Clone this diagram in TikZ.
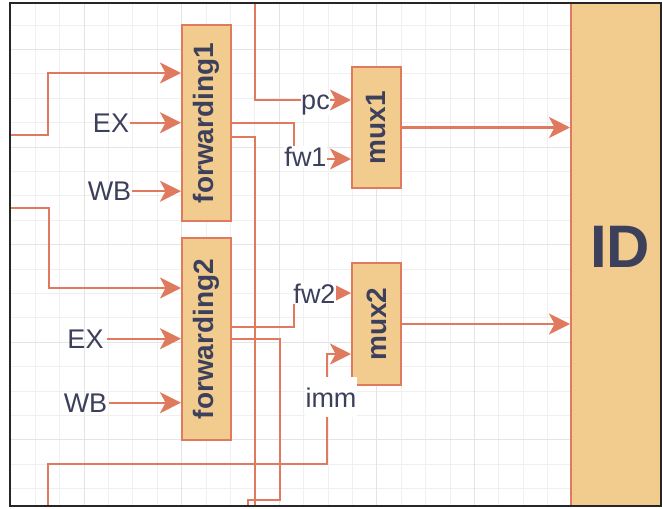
\documentclass[tikz,border=0pt]{standalone}
\usepackage{fontspec}
\setmainfont{Liberation Sans}
\usetikzlibrary{arrows.meta}
\definecolor{ln}{HTML}{E07A5F}
\definecolor{bx}{HTML}{F2CC8F}
\definecolor{tx}{HTML}{3D405B}
\definecolor{gmin}{HTML}{F0F0F0}
\definecolor{gmaj}{HTML}{E4E4E4}
\begin{document}
\begin{tikzpicture}[x=1pt,y=-1pt,
  blk/.style={draw=ln, fill=bx, line width=2pt, inner sep=0pt, text=tx,
              font=\fontsize{28}{28}\selectfont\bfseries},
  conn/.style={draw=ln, line width=2.2pt},
  arr/.style={conn, -{Stealth[length=21pt,width=21pt,inset=5.5pt]}},
  lbl/.style={text=tx, font=\fontsize{27}{27}\selectfont, inner sep=0.5pt, anchor=base},
  elbl/.style={lbl, fill=white},
  gridmin/.style={draw=gmin, line width=1pt},
  gridmaj/.style={draw=gmaj, line width=1pt},
]
\useasboundingbox (0,0) rectangle (662,509);
\fill[white] (0,0) rectangle (662,509);
\begin{scope}
  \clip (10,3) rectangle (661,506);
  \foreach \k [evaluate=\k as \xx using -13.6+24.4*\k] in {1,...,28}
    {\draw[gridmin] (\xx,3) -- (\xx,506);}
  \foreach \k [evaluate=\k as \yy using -48.2+24.4*\k] in {2,...,23}
    {\draw[gridmin] (10,\yy) -- (661,\yy);}
  \foreach \k [evaluate=\k as \xx using -13.6+24.4*\k] in {4,8,...,24}
    {\draw[gridmaj] (\xx,3) -- (\xx,506);}
  \foreach \k [evaluate=\k as \yy using -48.2+24.4*\k] in {4,8,...,20}
    {\draw[gridmaj] (10,\yy) -- (661,\yy);}
  \node[blk, minimum width=98pt, minimum height=540pt,
        font=\fontsize{60}{60}\selectfont\bfseries] (id) at (620,247) {ID};
\end{scope}

% blocks
\node[blk, minimum width=49pt, minimum height=196pt] (f1) at (206.5,123) {\rotatebox{90}{forwarding1}};
\node[blk, minimum width=49pt, minimum height=202pt] (f2) at (206.5,339) {\rotatebox{90}{forwarding2}};
\node[blk, minimum width=49pt, minimum height=121pt] (m1) at (376.5,127.5) {\rotatebox{90}{mux1}};
\node[blk, minimum width=49pt, minimum height=122pt] (m2) at (376.5,324) {\rotatebox{90}{mux2}};

% free ends
\coordinate (l1) at (10,135);
\coordinate (l2) at (10,208);
\coordinate (pcin) at (255,3);
\coordinate (b1) at (255,506);
\coordinate (b2) at (248,506);
\coordinate (immin) at (48,506);

% input labels
\node[lbl] (ex1) at (111,132) {EX};
\node[lbl] (wb1) at (109.5,200.5) {WB};
\node[lbl, inner xsep=3pt] (ex2) at (85.5,348) {EX};
\node[lbl, inner xsep=2pt] (wb2) at (85.5,412) {WB};

% inputs to forwarding units
\draw[arr] (l1) -- ++(38,0) |- ([yshift=50pt]f1.west);
\draw[arr] (ex1.east) -- (ex1.east -| f1.west);
\draw[arr] (wb1.east) -- (wb1.east -| f1.west);
\draw[arr] (l2) -- ++(39,0) |- ([yshift=51pt]f2.west);
\draw[arr] (ex2.east) -- (ex2.east -| f2.west);
\draw[arr] (wb2.east) -- (wb2.east -| f2.west);

% outputs of forwarding units
\draw[conn] ([yshift=-14pt]f1.east) -| (b1);
\draw[conn] (f2.east) -| ++(48,161) -| (b2);

% mux inputs
\draw[arr] (pcin) |- ([yshift=27.5pt]m1.west);
\draw[arr] (f1.east) -- ++(62,0) |- ([yshift=-31.5pt]m1.west);
\draw[arr] ([yshift=12pt]f2.east) -- ++(62,0) |- ([yshift=31pt]m2.west);
\draw[arr] (immin) |- (327,464) |- ([yshift=-30pt]m2.west);

% edge labels
\node[elbl] (pc) at (315.5,109) {pc};
\node[elbl] (fw1) at (305.5,166) {fw1};
\node[elbl] (fw2) at (314.5,303) {fw2};
\node[elbl, inner ysep=10pt] (imm) at (331,407) {imm};

% mux outputs to ID
\draw[arr] (m1.east) -- (m1.east -| id.west);
\draw[arr] (m2.east) -- (m2.east -| id.west);

% frame
\draw[black!85, line width=2pt] (10,3) rectangle (661,506);
\end{tikzpicture}
\end{document}
